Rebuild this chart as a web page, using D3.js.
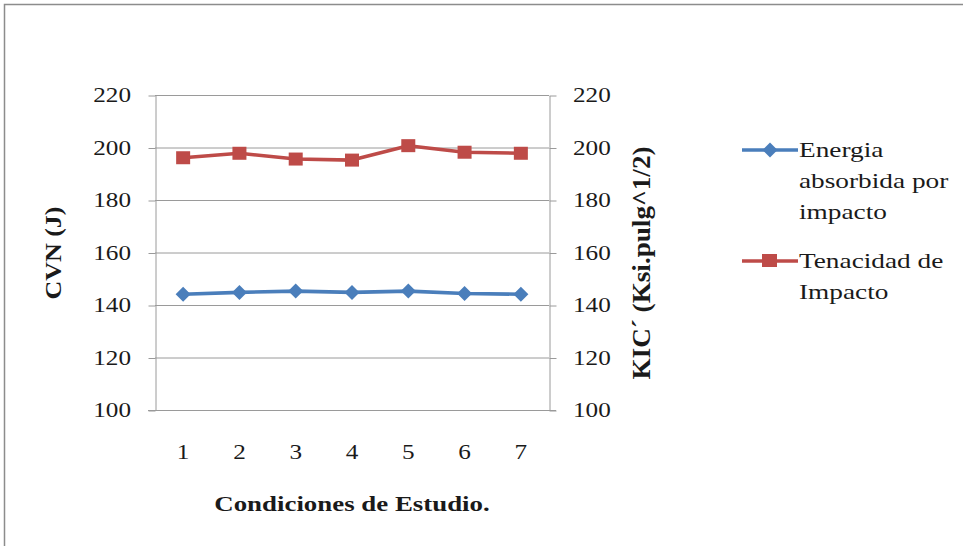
<!DOCTYPE html>
<html>
<head>
<meta charset="utf-8">
<script src="https://cdn.jsdelivr.net/npm/d3@7/dist/d3.min.js"></script>
<style>
  html, body { margin: 0; padding: 0; background: #fff; }
  svg { display: block; }
</style>
</head>
<body>
<svg id="chart" width="963" height="546"></svg>
<script>
// Study conditions (x categories)
const conditions = [1, 2, 3, 4, 5, 6, 7];
// Absorbed impact energy, CVN (J) — left axis
const energia = [144.1, 144.8, 145.3, 144.8, 145.3, 144.4, 144.1];
// Impact toughness, KIC (Ksi.pulg^1/2) — right axis
const tenacidad = [196.1, 197.8, 195.6, 195.2, 200.7, 198.2, 197.8];
// Axis ticks (both axes share the same range)
const yTicks = [100, 120, 140, 160, 180, 200, 220];
const seriesNames = [["Energia", "absorbida por", "impacto"], ["Tenacidad de", "Impacto"]];

const FONT = "'Liberation Serif', 'Times New Roman', 'DejaVu Serif', serif";
const svg = d3.select("#chart");
const plot = { left: 155, right: 549, top: 95, bottom: 410 };
const SX = 1.2; // horizontal glyph stretch of the drawing

// Horizontally stretched text helper
function stext(g, x, y, str, opts = {}) {
  return g.append("text")
    .attr("transform", `translate(${x},${y}) scale(${opts.sx || SX},1)`)
    .attr("text-anchor", opts.anchor || "start")
    .attr("fill", "#1a1a1a")
    .style("font-family", FONT)
    .style("font-size", (opts.size || 21) + "px")
    .style("font-weight", opts.bold ? "bold" : "normal")
    .text(str);
}

// Outer frame
svg.append("rect").attr("x", 4.5).attr("y", 4.5).attr("width", 980).attr("height", 560)
  .attr("fill", "#fff").attr("stroke", "#8c8c8c").attr("stroke-width", 1.5);

const x = d3.scaleBand().domain(conditions).range([plot.left, plot.right]);
const yL = d3.scaleLinear().domain([100, 220]).range([plot.bottom, plot.top]);
const yR = d3.scaleLinear().domain([100, 220]).range([plot.bottom, plot.top]);

const axisColor = "#9a9a9a";

// Horizontal gridlines
svg.append("g").selectAll("line").data(yTicks.filter(d => d !== 100)).join("line")
  .attr("x1", plot.left).attr("x2", plot.right)
  .attr("y1", d => yL(d) + 0.5).attr("y2", d => yL(d) + 0.5)
  .attr("stroke", axisColor).attr("stroke-width", 1);

// Left axis
const gL = svg.append("g").attr("transform", `translate(${plot.left + 0.5},0.5)`)
  .call(d3.axisLeft(yL).tickValues(yTicks).tickSize(7).tickSizeOuter(0).tickFormat(() => ""));
gL.selectAll("path, line").attr("stroke", axisColor);
yTicks.forEach(v => stext(svg, 131, yL(v) + 7, String(v), { anchor: "end" }));

// Right axis
const gR = svg.append("g").attr("transform", `translate(${plot.right + 0.5},0.5)`)
  .call(d3.axisRight(yR).tickValues(yTicks).tickSize(7).tickSizeOuter(0).tickFormat(() => ""));
gR.selectAll("path, line").attr("stroke", axisColor);
yTicks.forEach(v => stext(svg, 573, yR(v) + 7, String(v), { anchor: "start" }));

// Bottom axis
const gB = svg.append("g").attr("transform", `translate(0,${plot.bottom + 0.5})`)
  .call(d3.axisBottom(x).tickSize(0).tickSizeOuter(0).tickFormat(() => ""));
gB.select("path").attr("stroke", axisColor).attr("d", `M${plot.left - 7},0H${plot.right + 7}`);
const cx = c => x(c) + x.bandwidth() / 2;
conditions.forEach(c => stext(svg, cx(c), 459, String(c), { anchor: "middle" }));

// Axis titles
stext(svg, 352, 511, "Condiciones de Estudio.", { anchor: "middle", bold: true, size: 21, sx: 1.28 });
svg.append("text")
  .attr("transform", `translate(61,253) rotate(-90)`)
  .attr("text-anchor", "middle")
  .attr("textLength", 93).attr("lengthAdjust", "spacingAndGlyphs")
  .attr("fill", "#1a1a1a")
  .style("font-family", FONT)
  .style("font-size", "23px").style("font-weight", "bold")
  .text("CVN (J)");
svg.append("text")
  .attr("transform", `translate(650,263) rotate(-90)`)
  .attr("text-anchor", "middle")
  .attr("textLength", 233).attr("lengthAdjust", "spacingAndGlyphs")
  .attr("fill", "#1a1a1a")
  .style("font-family", FONT)
  .style("font-size", "26px").style("font-weight", "bold")
  .text("KIC´ (Ksi.pulg^1/2)");

const blue = "#4a7ebb", red = "#be4b48";

// Energy series (diamonds)
svg.append("path").datum(energia)
  .attr("fill", "none").attr("stroke", blue).attr("stroke-width", 3.6).attr("stroke-linejoin", "round")
  .attr("d", d3.line().x((d, i) => cx(conditions[i])).y(d => yL(d)));
const diamond = (px, py, r) => `M${px},${py - r}L${px + r},${py}L${px},${py + r}L${px - r},${py}Z`;
svg.append("g").selectAll("path").data(energia).join("path")
  .attr("d", (d, i) => diamond(cx(conditions[i]), yL(d), 7.5))
  .attr("fill", blue);

// Toughness series (squares)
svg.append("path").datum(tenacidad)
  .attr("fill", "none").attr("stroke", red).attr("stroke-width", 3.6).attr("stroke-linejoin", "round")
  .attr("d", d3.line().x((d, i) => cx(conditions[i])).y(d => yR(d)));
svg.append("g").selectAll("rect").data(tenacidad).join("rect")
  .attr("x", (d, i) => cx(conditions[i]) - 7).attr("y", d => yR(d) - 6.5)
  .attr("width", 14).attr("height", 13)
  .attr("fill", red);

// Legend
const lg = svg.append("g");
lg.append("line").attr("x1", 742).attr("x2", 798).attr("y1", 150).attr("y2", 150)
  .attr("stroke", blue).attr("stroke-width", 3.6);
lg.append("path").attr("d", diamond(770, 150, 7.5)).attr("fill", blue);
seriesNames[0].forEach((s, i) => stext(lg, 799, 157 + i * 31, s, { size: 21, sx: 1.3 }));

lg.append("line").attr("x1", 742).attr("x2", 798).attr("y1", 261).attr("y2", 261)
  .attr("stroke", red).attr("stroke-width", 3.6);
lg.append("rect").attr("x", 762).attr("y", 254).attr("width", 15).attr("height", 13).attr("fill", red);
seriesNames[1].forEach((s, i) => stext(lg, 799, 268 + i * 31, s, { size: 21, sx: 1.3 }));
</script>
</body>
</html>
